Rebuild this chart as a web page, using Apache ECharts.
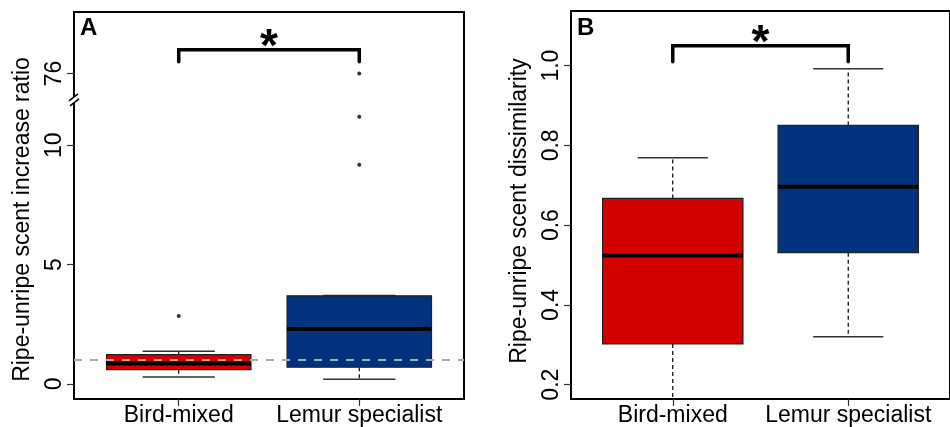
<!DOCTYPE html>
<html>
<head>
<meta charset="utf-8">
<title>Ripe-unripe scent</title>
<script src="https://cdn.jsdelivr.net/npm/echarts@6/dist/echarts.min.js"></script>
</head>
<body style="margin:0;background:#fff">
<div id="main" style="width:950px;height:427px"></div>
<script>
const groups = ['Bird-mixed', 'Lemur specialist'];
const boxColors = ['#d40000', '#03337e'];

// panel A: [low whisker, Q1, median, Q3, high whisker]
const ratioStats = [[0.29, 0.60, 0.86, 1.23, 1.37], [0.20, 0.70, 2.30, 3.69, 3.71]];
const ratioOutliers = [[2.85], [9.18, 11.19, 76]];
const ratioTicks = [0, 5, 10, 76];
const ratioRef = 1;
const ratioSig = [1, 2, 14.0, 13.5];

// panel B
const dissimStats = [[0.15, 0.302, 0.524, 0.667, 0.769], [0.32, 0.531, 0.696, 0.85, 0.992]];
const dissimTicks = [0.2, 0.4, 0.6, 0.8, 1.0];
const dissimSig = [1, 2, 1.05, 1.01];

const FONT = 'Liberation Sans, Arial, sans-serif';

// broken axis: everything above 12 is squeezed in around 76
function brk(v) { return v > 12 ? 13 + (v - 76) / 10 : v; }

function boxSeries(idx, stats) {
  return {
    type: 'custom', xAxisIndex: idx, yAxisIndex: idx, clip: true, z: 3,
    data: stats.map((s, i) => [i + 1].concat(s)),
    encode: { x: 0, y: [1, 2, 3, 4, 5] },
    renderItem: function (params, api) {
      const x = api.value(0);
      const py = k => api.coord([x, api.value(k)])[1];
      const px = d => api.coord([x + d, api.value(3)])[0];
      const cx = px(0), L = px(-0.4), R = px(0.4), cl = px(-0.2), cr = px(0.2);
      const yLow = py(1), yQ1 = py(2), yMed = py(3), yQ3 = py(4), yHigh = py(5);
      const dash = { stroke: '#000', lineWidth: 1.2, lineDash: [4, 3] };
      const cap = { stroke: '#333', lineWidth: 1.5 };
      return { type: 'group', children: [
        { type: 'line', shape: { x1: cx, y1: yQ3, x2: cx, y2: yHigh }, style: dash },
        { type: 'line', shape: { x1: cx, y1: yQ1, x2: cx, y2: yLow }, style: dash },
        { type: 'line', shape: { x1: cl, y1: yHigh, x2: cr, y2: yHigh }, style: cap },
        { type: 'line', shape: { x1: cl, y1: yLow, x2: cr, y2: yLow }, style: cap },
        { type: 'rect', shape: { x: L, y: yQ3, width: R - L, height: yQ1 - yQ3 },
          style: { fill: boxColors[params.dataIndex], stroke: '#222', lineWidth: 1.2 } },
        { type: 'line', shape: { x1: L, y1: yMed, x2: R, y2: yMed }, style: { stroke: '#000', lineWidth: 4 } }
      ] };
    }
  };
}

function sigSeries(idx, sig) {
  return {
    type: 'custom', xAxisIndex: idx, yAxisIndex: idx, clip: false, z: 5, silent: true,
    data: [sig],
    renderItem: function (params, api) {
      const a = api.coord([api.value(0), api.value(2)]);
      const b = api.coord([api.value(1), api.value(2)]);
      const yd = api.coord([api.value(0), api.value(3)])[1];
      const st = { stroke: '#000', lineWidth: 3.5, lineCap: 'round', lineJoin: 'miter', fill: null };
      return { type: 'group', children: [
        { type: 'polyline', shape: { points: [[a[0], yd], [a[0], a[1]], [b[0], b[1]], [b[0], yd]] }, style: st },
        { type: 'text', x: (a[0] + b[0]) / 2, y: a[1] - 1,
          style: { text: '*', fill: '#000', font: 'bold 46px ' + FONT, align: 'center', verticalAlign: 'middle' } }
      ] };
    }
  };
}

function xAxisFor(idx) {
  return {
    gridIndex: idx, type: 'value', min: 0.42, max: 2.58,
    splitLine: { show: false },
    axisLine: { onZero: false, lineStyle: { color: '#000', width: 2 } },
    axisTick: { customValues: [1, 2], length: 7, lineStyle: { color: '#333', width: 1.2 } },
    axisLabel: { customValues: [1, 2], formatter: v => groups[Math.round(v) - 1],
      fontSize: 23, color: '#000', fontFamily: FONT, margin: 5 }
  };
}

const chart = echarts.init(document.getElementById('main'));
chart.setOption({
  animation: false,
  backgroundColor: '#fff',
  grid: [
    { left: 74, top: 12, width: 390, height: 388, show: true, borderColor: '#000', borderWidth: 2 },
    { left: 571, top: 11, width: 389, height: 389, show: true, borderColor: '#000', borderWidth: 2 }
  ],
  xAxis: [xAxisFor(0), xAxisFor(1)],
  yAxis: [
    {
      gridIndex: 0, type: 'value', min: -0.63, max: 15.58,
      splitLine: { show: false },
      axisLine: { onZero: false, lineStyle: { color: '#000', width: 2 } },
      axisTick: { customValues: ratioTicks.map(brk), length: 7, lineStyle: { color: '#333', width: 1.2 } },
      axisLabel: { customValues: ratioTicks.map(brk), rotate: 90, margin: 8,
        formatter: v => String(ratioTicks[ratioTicks.map(brk).findIndex(t => Math.abs(t - v) < 1e-6)]),
        fontSize: 23, color: '#000', fontFamily: FONT },
      name: 'Ripe-unripe scent increase ratio', nameLocation: 'middle', nameRotate: 90, nameGap: 40,
      nameTextStyle: { fontSize: 23, color: '#000', fontFamily: FONT, padding: [0, 28, 0, 0] }
    },
    {
      gridIndex: 1, type: 'value', min: 0.164, max: 1.137,
      splitLine: { show: false },
      axisLine: { onZero: false, lineStyle: { color: '#000', width: 2 } },
      axisTick: { customValues: dissimTicks, length: 7, lineStyle: { color: '#333', width: 1.2 } },
      axisLabel: { customValues: dissimTicks, rotate: 90, margin: 8, formatter: v => v.toFixed(1),
        fontSize: 23, color: '#000', fontFamily: FONT },
      name: 'Ripe-unripe scent dissimilarity', nameLocation: 'middle', nameRotate: 90, nameGap: 40,
      nameTextStyle: { fontSize: 23, color: '#000', fontFamily: FONT, padding: [0, 12, 0, 0] }
    }
  ],
  graphic: [
    { type: 'text', left: 80, top: 16, style: { text: 'A', font: 'bold 24px ' + FONT, fill: '#000' } },
    { type: 'text', left: 577, top: 16, style: { text: 'B', font: 'bold 24px ' + FONT, fill: '#000' } }
  ],
  series: [
    boxSeries(0, ratioStats),
    {
      type: 'scatter', xAxisIndex: 0, yAxisIndex: 0, z: 4, silent: true,
      symbolSize: 4, itemStyle: { color: '#000' },
      data: ratioOutliers.flatMap((arr, i) => arr.map(v => [i + 1, brk(v)])),
      markLine: {
        silent: true, symbol: ['none', 'none'], label: { show: false },
        lineStyle: { color: '#aaa', width: 2, type: [8, 8] },
        data: [{ yAxis: ratioRef }]
      }
    },
    sigSeries(0, ratioSig),
    {
      // axis break marks on the left axis of panel A
      type: 'custom', xAxisIndex: 0, yAxisIndex: 0, clip: false, z: 6, silent: true,
      data: [[0.42, 11.9]],
      renderItem: function (params, api) {
        const p = api.coord([api.value(0), api.value(1)]);
        const st = { stroke: '#000', lineWidth: 1.5 };
        return { type: 'group', children: [
          { type: 'rect', shape: { x: p[0] - 2, y: p[1] - 3, width: 4, height: 6 }, style: { fill: '#fff' } },
          { type: 'line', shape: { x1: p[0] - 5, y1: p[1] + 1, x2: p[0] + 4, y2: p[1] - 6 }, style: st },
          { type: 'line', shape: { x1: p[0] - 4, y1: p[1] + 6, x2: p[0] + 5, y2: p[1] - 1 }, style: st }
        ] };
      }
    },
    boxSeries(1, dissimStats),
    sigSeries(1, dissimSig)
  ]
});
window.addEventListener('resize', () => chart.resize());
</script>
</body>
</html>
